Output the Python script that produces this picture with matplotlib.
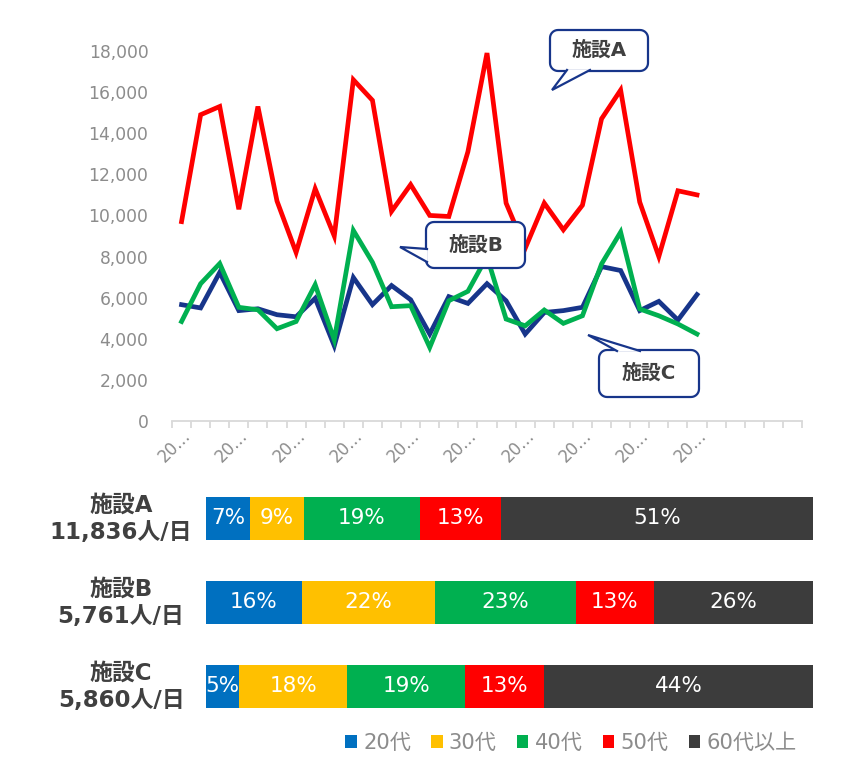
import numpy as np
import matplotlib
matplotlib.use("Agg")
import matplotlib.pyplot as plt
from matplotlib.patches import Polygon, Patch
from matplotlib.transforms import blended_transform_factory

plt.rcParams['font.family'] = ['DejaVu Sans', 'Noto Sans CJK JP']

# ---------------- data ----------------
n_categories = 33
x_labels = ["20…"] * 10          # one label every 3 categories (truncated dates)
label_step = 3

facility_a = [9700, 14900, 15300, 10300, 15300, 10700, 8200, 11300, 9000, 16600,
              15600, 10200, 11500, 10000, 9950, 13100, 17900, 10600, 8400, 10600,
              9300, 10500, 14700, 16100, 10650, 8000, 11200, 11000]
facility_b = [5660, 5500, 7230, 5370, 5460, 5170, 5070, 5970, 3660, 6980,
              5660, 6590, 5900, 4230, 6050, 5720, 6680, 5850, 4230, 5280,
              5370, 5530, 7510, 7320, 5370, 5820, 4910, 6150]
facility_c = [4840, 6680, 7660, 5530, 5410, 4490, 4840, 6630, 3950, 9270,
              7720, 5560, 5610, 3580, 5850, 6310, 8000, 4960, 4630, 5400,
              4750, 5120, 7640, 9190, 5450, 5120, 4720, 4230]

facilities = ["施設A", "施設B", "施設C"]
daily_visitors = ["11,836人/日", "5,761人/日", "5,860人/日"]
age_groups = ["20代", "30代", "40代", "50代", "60代以上"]
age_share_a = [7.2, 8.9, 19.1, 13.4, 51.4]
age_share_b = [15.8, 21.9, 23.2, 12.9, 26.2]
age_share_c = [5.4, 17.9, 19.4, 13.0, 44.3]

line_colors = ["#ff0000", "#17358a", "#00b050"]
age_colors = ["#0070c0", "#ffc000", "#00b050", "#ff0000", "#3c3c3c"]
gray_text = "#8c8c8c"
dark_text = "#404040"
callout_edge = "#17358a"

W, H = 860, 780
fig = plt.figure(figsize=(W / 100, H / 100), dpi=100)

def fx(px):
    return px / W

def fy(py):
    return 1 - py / H

# ---------------- line chart ----------------
ax = fig.add_axes([fx(172), fy(421), fx(802) - fx(172), fy(51) - fy(421)])
xs = np.arange(len(facility_a))
for series, col in zip([facility_a, facility_b, facility_c], line_colors):
    ax.plot(xs, series, color=col, lw=3.4, solid_joinstyle='miter', clip_on=False)
ax.set_xlim(-0.5, n_categories - 0.5)
ax.set_ylim(0, 18000)
yt = np.arange(0, 18001, 2000)
ax.set_yticks(yt)
ax.set_yticklabels([f"{v:,}" for v in yt], color=gray_text, fontsize=12.3)
ax.tick_params(axis='y', length=0, pad=17)
for s in ['top', 'right', 'left']:
    ax.spines[s].set_visible(False)
ax.spines['bottom'].set_color('#d9d9d9')
ax.spines['bottom'].set_linewidth(1.3)
major = np.arange(0, label_step * len(x_labels), label_step)
ax.set_xticks(major)
ax.set_xticklabels(x_labels, rotation=45, ha='right', va='top',
                   rotation_mode='anchor', color=gray_text, fontsize=12)
for lbl in ax.get_xticklabels():
    lbl.set_transform(lbl.get_transform() +
                      matplotlib.transforms.ScaledTranslation(4 / 100, 3 / 100,
                                                              fig.dpi_scale_trans))
ax.set_xticks(np.arange(-0.5, n_categories, 1), minor=True)
ax.tick_params(axis='x', which='major', length=0, pad=4)
ax.tick_params(axis='x', which='minor', length=5, width=1.3, color='#d9d9d9')

# ---------------- stacked bars ----------------
bx = fig.add_axes([fx(206), fy(728.5), fx(813) - fx(206), fy(476.5) - fy(728.5)])
shares = [age_share_a, age_share_b, age_share_c]
for row, sh in enumerate(shares):
    left = 0
    for k, v in enumerate(sh):
        bx.barh(row, v, left=left, height=0.51, color=age_colors[k], lw=0)
        bx.text(left + v / 2, row, f"{round(v)}%", ha='center', va='center',
                color='white', fontsize=15.5)
        left += v
bx.set_xlim(0, 100)
bx.set_ylim(2.5, -0.5)
bx.axis('off')
tr = blended_transform_factory(fig.transFigure, bx.transData)
for row, (name, vis) in enumerate(zip(facilities, daily_visitors)):
    bx.text(fx(121), row, f"{name}\n{vis}", transform=tr, ha='center', va='center',
            multialignment='center', fontsize=16.5, fontweight='bold',
            color=dark_text, linespacing=1.25)

handles = [Patch(facecolor=c, edgecolor='none') for c in age_colors]
leg = fig.legend(handles, age_groups, loc='center', bbox_to_anchor=(fx(571), fy(743)),
                 ncol=5, frameon=False, fontsize=15.2, handlelength=0.55, handleheight=0.55,
                 handletextpad=0.3, columnspacing=0.95, borderaxespad=0)
for t in leg.get_texts():
    t.set_color(gray_text)

# ---------------- callouts (pixel overlay) ----------------
ov = fig.add_axes([0, 0, 1, 1], zorder=10)
ov.set_xlim(0, W)
ov.set_ylim(H, 0)
ov.axis('off')
ov.patch.set_alpha(0)

def rounded_rect(x0, y0, x1, y1, r, n=8):
    pts = []
    corners = [(x1 - r, y0 + r, -90, 0), (x1 - r, y1 - r, 0, 90),
               (x0 + r, y1 - r, 90, 180), (x0 + r, y0 + r, 180, 270)]
    for cx, cy, a0, a1 in corners:
        for a in np.linspace(np.radians(a0), np.radians(a1), n):
            pts.append((cx + r * np.cos(a), cy + r * np.sin(a)))
    return pts

def callout(box, base1, base2, tip, text):
    x0, y0, x1, y1 = box
    ov.add_patch(Polygon(rounded_rect(x0, y0, x1, y1, 8), closed=True,
                         facecolor='white', edgecolor=callout_edge, lw=1.6))
    ov.add_patch(Polygon([base1, tip, base2], closed=True, facecolor='white',
                         edgecolor='none'))
    ov.plot([base1[0], tip[0], base2[0]], [base1[1], tip[1], base2[1]],
            color=callout_edge, lw=1.6, solid_joinstyle='miter')
    ov.text((x0 + x1) / 2, (y0 + y1) / 2, text, ha='center', va='center',
            fontsize=14.3, fontweight='bold', color=dark_text)

callout((550, 30, 648, 71), (567, 70), (590, 70), (552, 90), facilities[0])
callout((426, 222, 525, 268), (427, 249), (427, 262), (400, 247), facilities[1])
callout((599, 350, 699, 397), (617, 351), (640, 351), (588, 335), facilities[2])

fig.savefig("out.png", dpi=100)
